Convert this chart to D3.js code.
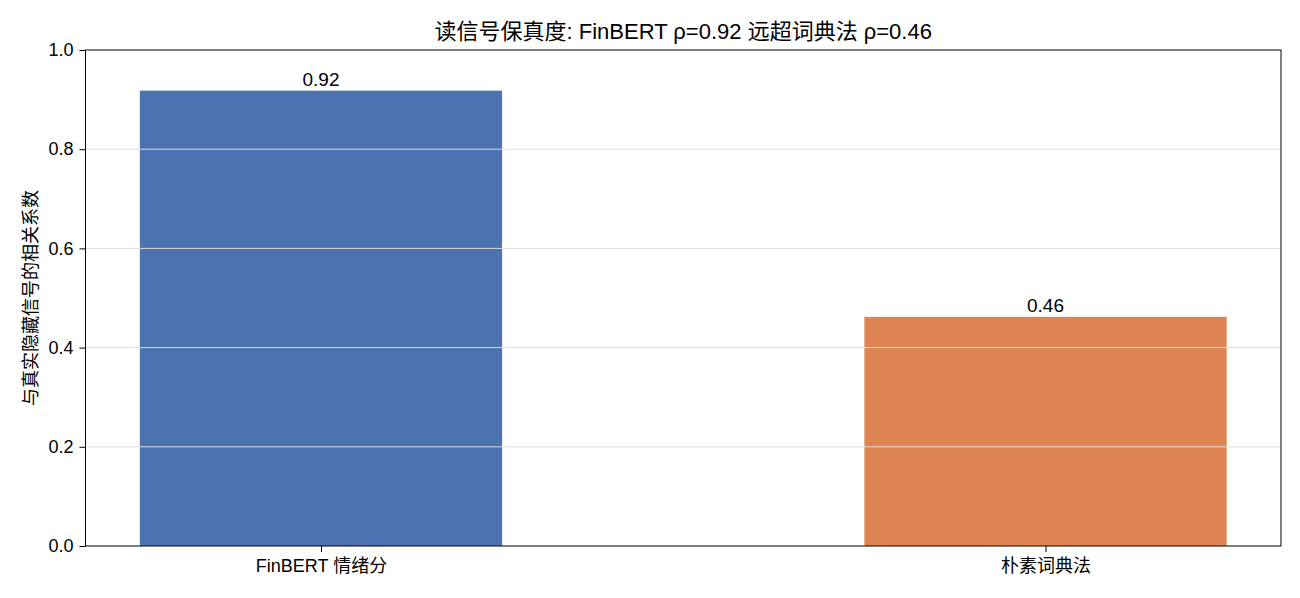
<!DOCTYPE html>
<html>
<head>
<meta charset="utf-8">
<script src="https://cdn.jsdelivr.net/npm/d3@7"></script>
<style>
  body { margin: 0; background: #fff; }
  svg text { font-family: "Liberation Sans", Arial, "Noto Sans CJK SC", sans-serif; fill: #000; }
</style>
</head>
<body>
<div id="chart"></div>
<script>
// data
const categories = ['FinBERT 情绪分', '朴素词典法'];
const values = [0.918, 0.462];
const colors = ['#4C72B0', '#DD8452'];
const yTicks = [0.0, 0.2, 0.4, 0.6, 0.8, 1.0];
const titleText = '读信号保真度: FinBERT ρ=0.92 远超词典法 ρ=0.46';
const yLabel = '与真实隐藏信号的相关系数';

const W = 1300, H = 598;
const margin = {top: 50, right: 19, bottom: 52, left: 85.5};
const width = W - margin.left - margin.right;
const height = H - margin.top - margin.bottom;

const svg = d3.select('#chart').append('svg')
  .attr('width', W)
  .attr('height', H);

const g = svg.append('g')
  .attr('transform', `translate(${margin.left},${margin.top})`);

// matplotlib style: bar width 0.5, 5% margins
const x = d3.scaleLinear().domain([-0.325, 1.325]).range([0, width]);
const y = d3.scaleLinear().domain([0, 1]).range([height, 0]);

// bars
g.selectAll('rect.bar')
  .data(values)
  .enter().append('rect')
  .attr('class', 'bar')
  .attr('x', (d, i) => x(i - 0.25))
  .attr('width', x(0.5) - x(0))
  .attr('y', d => y(d))
  .attr('height', d => y(0) - y(d))
  .attr('fill', (d, i) => colors[i]);

// grid on top of bars
g.selectAll('line.grid')
  .data(yTicks.slice(1, -1))
  .enter().append('line')
  .attr('class', 'grid')
  .attr('x1', 0).attr('x2', width)
  .attr('y1', d => y(d)).attr('y2', d => y(d))
  .attr('stroke', '#dcdcdc')
  .attr('stroke-width', 1);

// value labels
g.selectAll('text.val')
  .data(values)
  .enter().append('text')
  .attr('class', 'val')
  .attr('x', (d, i) => x(i))
  .attr('y', d => y(d) - 5)
  .attr('text-anchor', 'middle')
  .style('font-size', '19px')
  .text(d => d.toFixed(2));

// axes
const yAxis = g.append('g')
  .call(d3.axisLeft(y).tickValues(yTicks).tickFormat(d3.format('.1f')).tickSize(6).tickPadding(6));
yAxis.selectAll('text').style('font-size', '18px');

const xAxis = g.append('g')
  .attr('transform', `translate(0,${height})`)
  .call(d3.axisBottom(x).tickValues([0, 1]).tickFormat((d) => categories[d]).tickSize(6).tickPadding(7));
xAxis.selectAll('text').style('font-size', '18px');

[yAxis, xAxis].forEach(a => {
  a.select('.domain').remove();
  a.selectAll('line').attr('stroke', '#000');
});

// frame
g.append('rect')
  .attr('width', width).attr('height', height)
  .attr('fill', 'none')
  .attr('stroke', '#000')
  .attr('stroke-width', 1);

// title
svg.append('text')
  .attr('x', margin.left + width / 2)
  .attr('y', 39)
  .attr('text-anchor', 'middle')
  .style('font-size', '22px')
  .text(titleText);

// y label
svg.append('text')
  .attr('transform', `translate(37,${margin.top + height / 2}) rotate(-90)`)
  .attr('text-anchor', 'middle')
  .style('font-size', '18px')
  .text(yLabel);
</script>
</body>
</html>
